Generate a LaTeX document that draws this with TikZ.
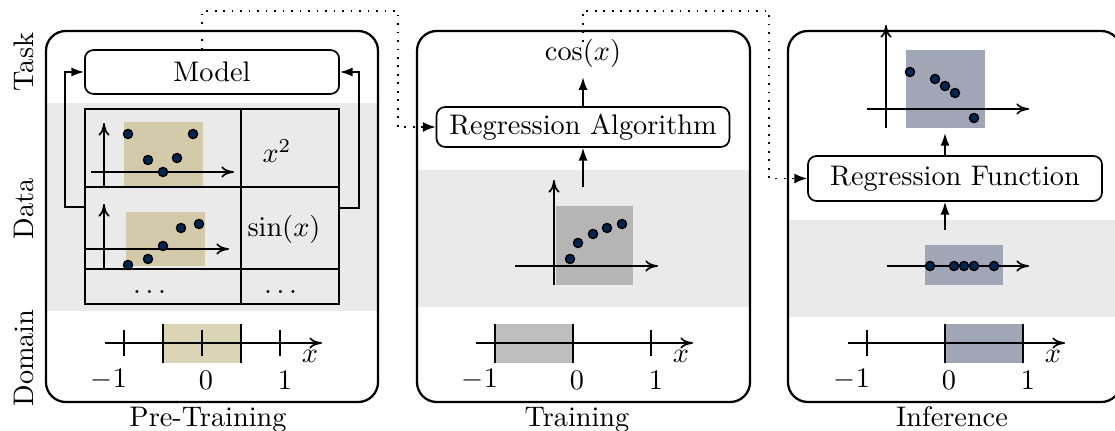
\documentclass[tikz,border=0pt]{standalone}
\usepackage{amsmath}
\usepackage{xcolor}
\usepackage{tikz}
\usetikzlibrary{arrows, arrows.meta, positioning, calc}
\definecolor{bandgray}{RGB}{234,234,234}
\definecolor{ptan}{RGB}{210,202,168}
\definecolor{ptanlight}{RGB}{219,212,181}
\definecolor{pgray}{RGB}{181,181,181}
\definecolor{pgraylight}{RGB}{190,190,190}
\definecolor{pblue}{RGB}{160,166,182}
\definecolor{dotblue}{RGB}{0,38,84}

\tikzset{
  panel/.style={draw, thick, rounded corners=7pt},
  box/.style={draw, semithick, rounded corners=3pt, inner sep=0pt},
  axis/.style={semithick, -{To[length=4.5pt,width=4pt]}},
  flow/.style={semithick, -{Latex[length=4.5pt,width=3.2pt]}},
  link/.style={semithick, dash pattern=on 0.6pt off 2.4pt, -{Latex[length=4.5pt,width=3.5pt]}},
  sample/.style={draw, fill=dotblue, line width=0.5pt},
}

\begin{document}
\begin{tikzpicture}[x=0.3534pt, y=-0.3534pt]
\useasboundingbox (0,0) rectangle (1115,431);
% Data bands
\fill[bandgray] (46,103) rectangle (378,311);
\fill[bandgray] (417,170) rectangle (750,307);
\fill[bandgray] (788,220) rectangle (1121,317);
% Panels
\draw[panel] (46,31) rectangle (378,402);
\draw[panel] (417,31) rectangle (750,402);
\draw[panel] (788,31) rectangle (1121,402);
% Row labels
\node[rotate=90, anchor=base] (task) at (33,62) {Task};
\node[rotate=90, anchor=base] (data) at (33,209) {Data};
\node[rotate=90, anchor=base] (domain) at (33,358) {Domain};
% Column labels
\node[anchor=base] (pretrain) at (208,427) {Pre-Training};
\node[anchor=base] (train) at (577,427) {Training};
\node[anchor=base] (infer) at (952,427) {Inference};

% Domains
\foreach \o/\a/\b/\c in {202/-0.5/0.5/ptanlight, 573/-1/0/pgraylight, 945/0/1/pblue}{
  \begin{scope}[shift={(\o,0)}]
    \fill[\c] (\a*78,324) rectangle (\b*78,363);
    \draw[thick] (\a*78,324) -- (\a*78,363) (\b*78,324) -- (\b*78,363);
    \draw[thick] (-78,330) -- (-78,356) (0,330) -- (0,356) (78,330) -- (78,356);
    \draw[axis] (-97,343) -- (120,343);
    \node (m\o) at (-93,380) {$-1$};
    \node (z\o) at (4,380) {$0$};
    \node (p\o) at (83,380) {$1$};
    \node (x\o) at (108,356) {$x$};
  \end{scope}
}

% Pre-Training: model and tasks
\node[box, minimum width=89.8pt, minimum height=15.5pt] (model) at (212,72) {Model};
\fill[ptan] (124,122) rectangle (203,186);
\fill[ptan] (126,212) rectangle (205,266);
\draw[axis] (104,186) -- (104,123);
\draw[axis] (91,172) -- (234,172);
\draw[axis] (104,269) -- (104,204);
\draw[axis] (86,249) -- (229,249);
\draw[thick] (85,109) rectangle (339,304);
\draw[thick] (241,109) -- (241,304);
\draw[thick] (85,187) -- (339,187);
\draw[thick] (85,269) -- (339,269);
\foreach \p in {(128,134),(148,160),(163,172),(177,158),(193,134)}
  \draw[sample] \p circle (1.6pt);
\foreach \p in {(128,265),(148,259),(163,246),(181,228),(199,224)}
  \draw[sample] \p circle (1.6pt);
\node (xsq) at (277,151) {$x^2$};
\node (sinx) at (284,229) {$\sin(x)$};
\node (more1) at (152,292) {$\dots$};
\node (more2) at (283,292) {$\dots$};
\coordinate (tl) at (85,207);
\coordinate (tr) at (339,208);
\draw[flow] (tl) -- ++(-20,0) |- (model.west);
\draw[flow] (tr) -- ++(20,0) |- (model.east);

% Training
\node (cosx) at (583,53) {$\cos(x)$};
\node[box, minimum width=103.5pt, minimum height=14.1pt] (regalg) at (583,127) {Regression Algorithm};
\fill[pgray] (556,206) rectangle (633,285);
\draw[axis] (554,285) -- (554,180);
\draw[axis] (515,266) -- (658,266);
\foreach \p in {(570,259),(578,243),(593,234),(607,228),(622,224)}
  \draw[sample] \p circle (1.6pt);
\coordinate (d2) at (583,187);
\draw[flow] (d2) -- (regalg.south);
\draw[flow] (regalg.north) -- (cosx.south);

% Inference
\node[box, minimum width=103.9pt, minimum height=15.9pt] (regfun) at (955,178.5) {Regression Function};
\fill[pblue] (906,50) rectangle (985,128);
\draw[axis] (886,128) -- (886,25);
\draw[axis] (867,109) -- (1029,109);
\foreach \p in {(910,72),(935,79),(945,86),(955,93),(974,118)}
  \draw[sample] \p circle (1.6pt);
\fill[pblue] (925,245) rectangle (1003,285);
\draw[axis] (887,266) -- (1029,266);
\foreach \p in {(930,266),(954,266),(964,266),(974,266),(994,266)}
  \draw[sample] \p circle (1.6pt);
\coordinate (f1) at (945,230);
\coordinate (f2) at (945,133);
\draw[flow] (f1) -- (f1 |- regfun.south);
\draw[flow] (f1 |- regfun.north) -- (f2);

% Links between stages
\coordinate (k1) at (398,11);
\coordinate (k2) at (769,11);
\draw[link] ([xshift=-3.5pt]model.north) |- (k1) |- (regalg.west);
\draw[link] ([yshift=-4.5pt]cosx.north) |- (k2) |- (regfun.west);
\end{tikzpicture}
\end{document}
